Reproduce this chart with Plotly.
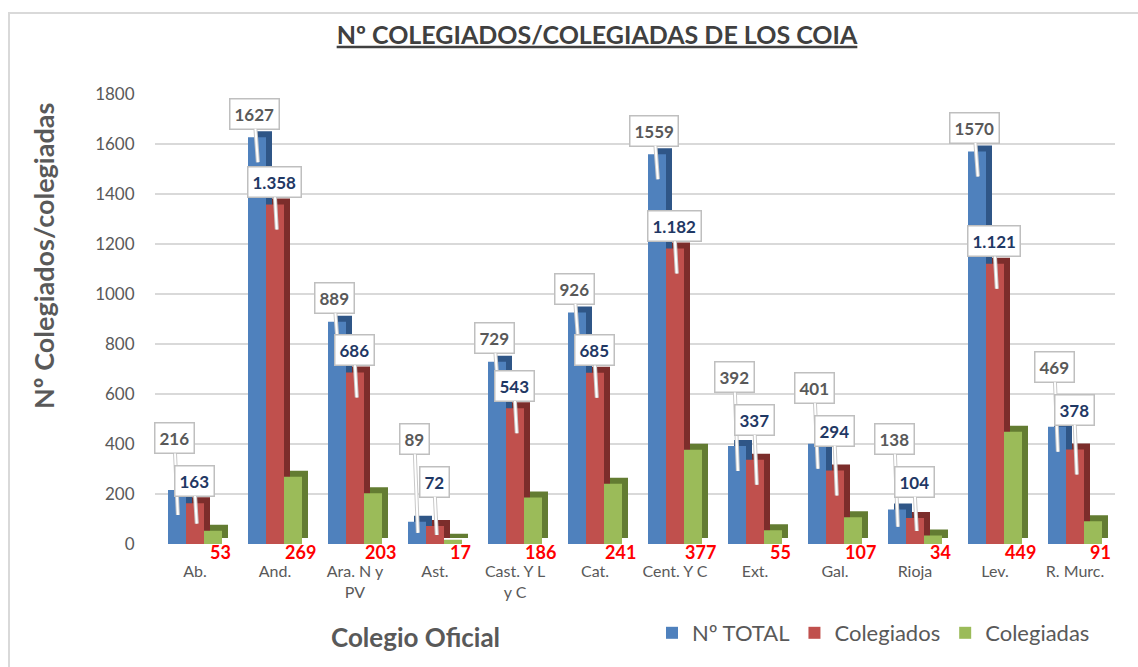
import plotly.graph_objects as go

categories = ["Ab.", "And.", "Ara. N y<br>PV", "Ast.", "Cast. Y L<br>y C", "Cat.",
              "Cent. Y C", "Ext.", "Gal.", "Rioja", "Lev.", "R. Murc."]
total = [216, 1627, 889, 89, 729, 926, 1559, 392, 401, 138, 1570, 469]
colegiados = [163, 1358, 686, 72, 543, 685, 1182, 337, 294, 104, 1121, 378]
colegiadas = [53, 269, 203, 17, 186, 241, 377, 55, 107, 34, 449, 91]
y_ticks = [0, 200, 400, 600, 800, 1000, 1200, 1400, 1600, 1800]

FONT = "Lato"
GRAY = "#595959"
xs = list(range(len(categories)))

# plot-area geometry in pixels
L, R, T, B = 155, 23, 94, 123
PW = 1138 - L - R
PH = 667 - T - B

BW = 0.225          # bar width in category units
DX = 0.075          # depth offset (x) of the 3D side
DY = 24             # depth offset (y) of the 3D top

series = [
    ("Nº TOTAL", total, "#4f81bd", "#2f5687", -1.5 * BW),
    ("Colegiados", colegiados, "#c0504d", "#7c2d2b", -0.5 * BW),
    ("Colegiadas", colegiadas, "#9bbb59", "#637c32", 0.5 * BW),
]

fig = go.Figure()
for name, vals, col, dark, off in series:
    # depth (side / top) face
    fig.add_trace(go.Bar(x=xs, y=vals, base=[DY] * len(vals), offset=off + DX, width=BW,
                         marker=dict(color=dark, line=dict(width=0)), showlegend=False,
                         hoverinfo="skip"))
    # front face
    fig.add_trace(go.Bar(x=xs, y=vals, offset=off, width=BW, name=name,
                         marker=dict(color=col, line=dict(width=0))))


def callout(x, y, ax, ay, text, color):
    out = []
    for acol, aw in (("#c8c8c8", 4), ("white", 2)):
        out.append(dict(
            x=x, y=y, xref="x", yref="y", ax=ax, ay=ay, axref="x", ayref="y",
            text=text, showarrow=True, arrowhead=0, arrowwidth=aw,
            arrowcolor=acol, standoff=0,
            font=dict(family=FONT, size=17, color=color),
            bgcolor="white", bordercolor="#bfbfbf", borderwidth=1.5, borderpad=4))
    return out


annotations = []
for i in xs:
    t, c, f = total[i], colegiados[i], colegiadas[i]
    c_box = max(c + 90, 250)
    if t - c < 120 and c > 200:
        c_box = max(c_box, c + 160)
    t_box = max(t + 95, c_box + 170)
    annotations += callout(i - 0.95 * BW, t - min(100, t * 0.5), i - 1.15 * BW, t_box,
                           "<b>%d</b>" % t, GRAY)
    annotations += callout(i + 0.1 * BW, c - min(100, c * 0.5), i - 0.05 * BW, c_box,
                           "<b>%s</b>" % format(c, ",").replace(",", "."), "#1f3864")
    annotations.append(dict(
        x=i + BW + 0.09, y=0, xref="x", yref="y", yshift=-8,
        text="<b>%d</b>" % f, showarrow=False,
        font=dict(family=FONT, size=18, color="#ff0000")))

annotations.append(dict(
    x=(415 - L) / PW, y=(T + PH - 637) / PH, xref="paper", yref="paper",
    xanchor="center", yanchor="middle",
    text="<b>Colegio Oficial</b>", showarrow=False,
    font=dict(family=FONT, size=26, color=GRAY)))
annotations.append(dict(
    x=(43 - L) / PW, y=(T + PH - 256) / PH, xref="paper", yref="paper",
    xanchor="center", yanchor="middle",
    text="<b>Nº Colegiados/colegiadas</b>", showarrow=False, textangle=-90,
    font=dict(family=FONT, size=27, color=GRAY)))

fig.update_layout(
    width=1138, height=667,
    margin=dict(l=L, r=R, t=T, b=B),
    paper_bgcolor="white", plot_bgcolor="white",
    barmode="overlay",
    title=dict(text="<b><u>Nº COLEGIADOS/COLEGIADAS DE LOS COIA</u></b>",
               x=597 / 1138, xanchor="center", y=1 - 35 / 667, yanchor="middle",
               font=dict(family=FONT, size=25, color="#404040")),
    xaxis=dict(range=[-0.5, len(categories) - 0.5], tickvals=xs, ticktext=categories,
               showgrid=False, zeroline=False, showline=False,
               ticks="outside", ticklen=13, tickcolor="rgba(0,0,0,0)",
               tickfont=dict(family=FONT, size=16, color=GRAY)),
    yaxis=dict(range=[0, 1800], tickvals=y_ticks, showgrid=True,
               gridcolor="#d9d9d9", gridwidth=1.5, zeroline=False, showline=False,
               ticks="outside", ticklen=16, tickcolor="rgba(0,0,0,0)",
               tickfont=dict(family=FONT, size=17, color=GRAY)),
    legend=dict(orientation="h", x=(652 - L) / PW, xanchor="left",
                y=(T + PH - 633) / PH, yanchor="middle",
                font=dict(family=FONT, size=22, color=GRAY),
                bgcolor="rgba(0,0,0,0)"),
    annotations=annotations,
    shapes=[dict(type="rect", xref="paper", yref="paper",
                 x0=(9 - L) / PW, x1=(1150 - L) / PW,
                 y0=(T + PH - 700) / PH, y1=(T + PH - 13) / PH,
                 line=dict(color="#d9d9d9", width=2), layer="below")],
)

fig.write_html("out.html", config={"displayModeBar": False},
               post_script="document.body.style.margin='0';")
